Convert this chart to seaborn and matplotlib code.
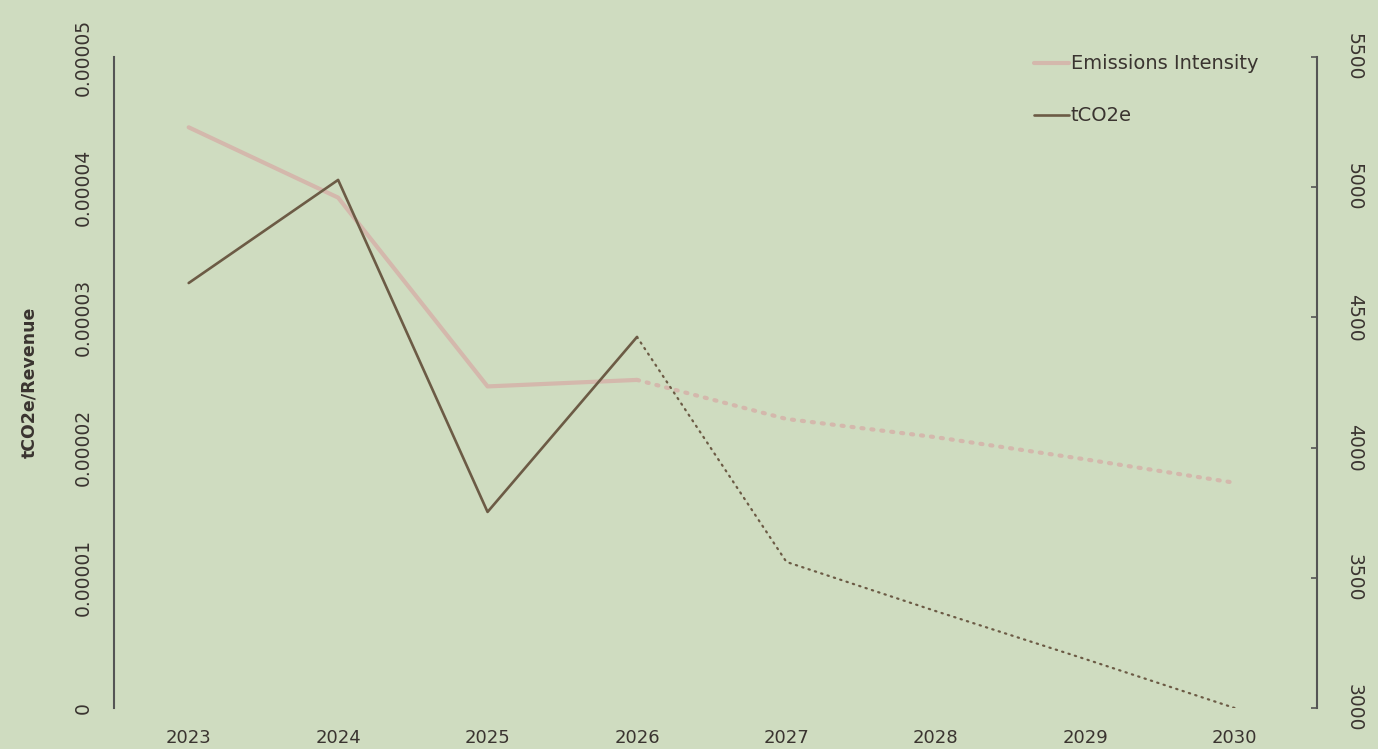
import numpy as np
import pandas as pd
import seaborn as sns
import matplotlib.pyplot as plt


years = [2023, 2024, 2025, 2026, 2027, 2028, 2029, 2030]
intensity = [0.0000446, 0.0000392, 0.0000247, 0.0000252, 0.0000222, 0.0000208, 0.0000191, 0.0000173]
tco2e = [4632, 5028, 3753, 4425, 3561, 3372, 3188, 3000]
last_actual = 2026

left_ticks = [0, 0.00001, 0.00002, 0.00003, 0.00004, 0.00005]
left_labels = ['0', '0.00001', '0.00002', '0.00003', '0.00004', '0.00005']
right_ticks = [3000, 3500, 4000, 4500, 5000, 5500]

BG = '#cfdcc0'
TEXT = '#3a3430'
PINK = '#d4b8ac'
BROWN = '#6c5b45'

df = pd.DataFrame({'year': years, 'intensity': intensity, 'tco2e': tco2e})
actual = df[df['year'] <= last_actual]
projected = df[df['year'] >= last_actual]

sns.set_theme(style='white')
plt.rcParams['font.family'] = ['DejaVu Sans']
plt.rcParams['text.color'] = TEXT

fig = plt.figure(figsize=(13.78, 7.49), dpi=100, facecolor=BG)
ax = fig.add_axes([0.0827, 0.0547, 0.873, 0.8692])
ax.set_facecolor(BG)
ax2 = ax.twinx()

# Emissions intensity on left axis
sns.lineplot(data=actual, x='year', y='intensity', ax=ax, color=PINK, linewidth=3,
             solid_capstyle='round', label='Emissions Intensity', legend=False)
sns.lineplot(data=projected, x='year', y='intensity', ax=ax, color=PINK, linewidth=3,
             linestyle=(0, (0.5, 1.9)), dash_capstyle='round', legend=False)

# tCO2e on right axis
sns.lineplot(data=actual, x='year', y='tco2e', ax=ax2, color=BROWN, linewidth=1.9,
             label='tCO2e', legend=False)
sns.lineplot(data=projected, x='year', y='tco2e', ax=ax2, color=BROWN, linewidth=1.6,
             linestyle=(0, (0.6, 2.4)), dash_capstyle='round', legend=False)

ax.set_xlim(2022.5, 2030.55)
ax.set_ylim(0, 0.00005)
ax2.set_ylim(3000, 5500)

ax.set_xticks(years)
ax.set_xticklabels([str(y) for y in years], fontsize=13, color=TEXT)
ax.set_yticks(left_ticks)
ax.set_yticklabels(left_labels, fontsize=13.5, color=TEXT, rotation=90, va='center')
ax2.set_yticks(right_ticks)
ax2.set_yticklabels([str(t) for t in right_ticks], fontsize=13.5, color=TEXT, rotation=-90, va='center')

ax.tick_params(axis='x', length=0, pad=15)
ax.tick_params(axis='y', length=0, pad=15)
ax2.tick_params(axis='y', direction='in', length=4, width=1.2, color='#555555', pad=20)

for a in (ax, ax2):
    for s in a.spines.values():
        s.set_visible(False)
ax.spines['left'].set_visible(True)
ax.spines['left'].set_color('#555555')
ax.spines['left'].set_linewidth(1.5)
ax2.spines['right'].set_visible(True)
ax2.spines['right'].set_color('#555555')
ax2.spines['right'].set_linewidth(1.5)

ax.set_xlabel('')
ax.set_ylabel('tCO2e/Revenue', fontsize=12.5, color=TEXT, fontweight='bold', labelpad=26)
ax2.set_ylabel('')

h1, l1 = ax.get_legend_handles_labels()
h2, l2 = ax2.get_legend_handles_labels()
leg = ax2.legend(h1 + h2, l1 + l2, loc='upper right', bbox_to_anchor=(0.951, 1.004),
                 frameon=False, fontsize=14, handlelength=1.8, handletextpad=0.1,
                 labelspacing=1.7, borderpad=0, borderaxespad=0)
for t in leg.get_texts():
    t.set_color(TEXT)

plt.savefig('out.png', dpi=100, facecolor=BG)
